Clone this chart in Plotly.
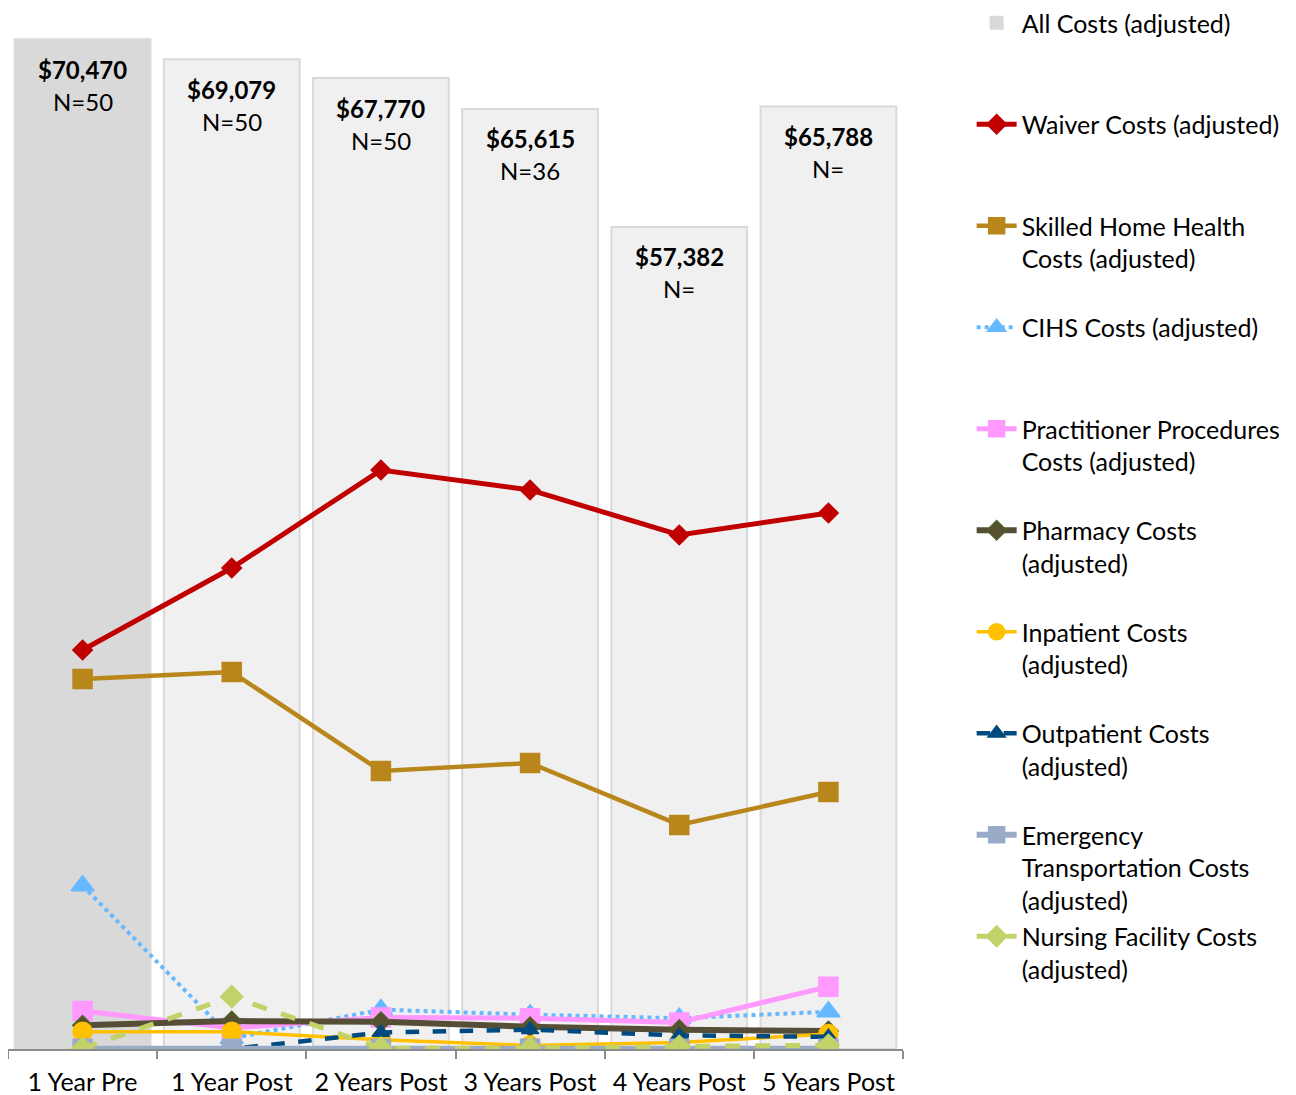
import plotly.graph_objects as go

categories = ["1 Year Pre", "1 Year Post", "2 Years Post", "3 Years Post", "4 Years Post", "5 Years Post"]
all_costs = [70470, 69079, 67770, 65615, 57382, 65788]
n_labels = ["N=50", "N=50", "N=50", "N=36", "N=", "N="]
waiver = [27850, 33570, 40410, 39020, 35880, 37410]
skilled_home_health = [25830, 26310, 19400, 19960, 15640, 17940]
cihs = [11400, 750, 2750, 2400, 2150, 2600]
practitioner = [2650, 1470, 2200, 2150, 1850, 4350]
pharmacy = [1650, 1950, 1900, 1550, 1350, 1250]
inpatient = [1200, 1200, 650, 250, 450, 1050]
outpatient = [60, 0, 1150, 1350, 950, 850]
emergency = [20, 20, 20, 20, 20, 20]
nursing = [30, 3650, 60, 60, 180, 260]

FONT = "Lato"
fig = go.Figure()

bar_colors = ["#D9D9D9"] + ["#F0F0F0"] * (len(categories) - 1)
fig.add_trace(go.Bar(
    x=categories, y=all_costs, name="All Costs (adjusted)<br> <br> ",
    marker=dict(color=bar_colors, line=dict(color="#D9D9D9", width=2)),
    legendgroup="g0", hoverinfo="skip",
))

line_series = [
    ("Waiver Costs (adjusted)<br> <br> ", waiver, "#C00000", "solid", 5, "diamond", 15, "#C00000", "#C00000"),
    ("Skilled Home Health<br>Costs (adjusted)<br> ", skilled_home_health, "#B8861A", "solid", 4.5, "square", 19, "#B8861A", "#B8861A"),
    ("CIHS Costs (adjusted)<br> <br> ", cihs, "#66B8FF", "dot", 4, "triangle-up", 20, "#66B8FF", "#66B8FF"),
    ("Practitioner Procedures<br>Costs (adjusted)<br> ", practitioner, "#FF99FF", "solid", 5, "square", 19, "#FF99FF", "#FF99FF"),
    ("Pharmacy Costs<br>(adjusted)<br> ", pharmacy, "#554D36", "solid", 6, "diamond", 15, "#564F30", "#4F6228"),
    ("Inpatient Costs<br>(adjusted)<br> ", inpatient, "#FFC000", "solid", 3.5, "circle", 19, "#FFC000", "#FFC000"),
    ("Outpatient Costs<br>(adjusted)<br> ", outpatient, "#004A7F", "dash", 4.5, "triangle-up", 15, "#004A7F", "#004A7F"),
    ("Emergency<br>Transportation Costs<br>(adjusted)", emergency, "#9AABC8", "solid", 6, "square", 19, "#9AABC8", "#9AABC8"),
    ("Nursing Facility Costs<br>(adjusted)<br> ", nursing, "#C3D169", "dash", 5, "diamond", 17, "#C3D169", "#C3D169"),
]

for i, (name, vals, col, dash, w, sym, sz, mcol, mline) in enumerate(line_series):
    fig.add_trace(go.Scatter(
        x=categories, y=vals, name=name, mode="lines+markers",
        line=dict(color=col, width=w, dash=dash),
        marker=dict(symbol=sym, size=sz, color=mcol, line=dict(color=mline, width=1.5)),
        legendgroup=f"g{i+1}", hoverinfo="skip",
    ))

annotations = []
for cat, tot, nl in zip(categories, all_costs, n_labels):
    annotations.append(dict(x=cat, y=tot, xref="x", yref="y", text=f"<b>${tot:,}</b>",
                            showarrow=False, yanchor="middle", yshift=-30,
                            font=dict(family=FONT, size=24, color="#000000")))
    annotations.append(dict(x=cat, y=tot, xref="x", yref="y", text=nl,
                            showarrow=False, yanchor="middle", yshift=-62,
                            font=dict(family=FONT, size=24, color="#000000")))

fig.update_layout(
    width=1296, height=1095,
    margin=dict(l=0, r=401, t=2, b=54, autoexpand=False),
    paper_bgcolor="white", plot_bgcolor="white",
    bargap=0.09,
    font=dict(family=FONT, size=24, color="#000000"),
    showlegend=True,
    legend=dict(x=1.0767, xanchor="left", xref="paper",
                y=1.0096, yanchor="top", yref="paper",
                valign="top", tracegroupgap=1, traceorder="grouped",
                font=dict(family=FONT, size=25, color="#000000"),
                bgcolor="rgba(0,0,0,0)", itemwidth=40),
    annotations=annotations,
    xaxis=dict(showline=True, linecolor="#8C8C8C", linewidth=1.5,
               ticks="outside", tickson="boundaries", ticklen=8, tickcolor="#8C8C8C",
               tickwidth=1.5, showgrid=False, zeroline=False,
               tickfont=dict(family=FONT, size=25, color="#000000")),
    yaxis=dict(visible=False, range=[0, 72520], showgrid=False, zeroline=False),
)
try:
    fig.update_layout(legend_maxheight=1095)
except Exception:
    pass
try:
    fig.update_xaxes(ticklabelstandoff=10)
except Exception:
    pass

fig.write_html("out.html")
